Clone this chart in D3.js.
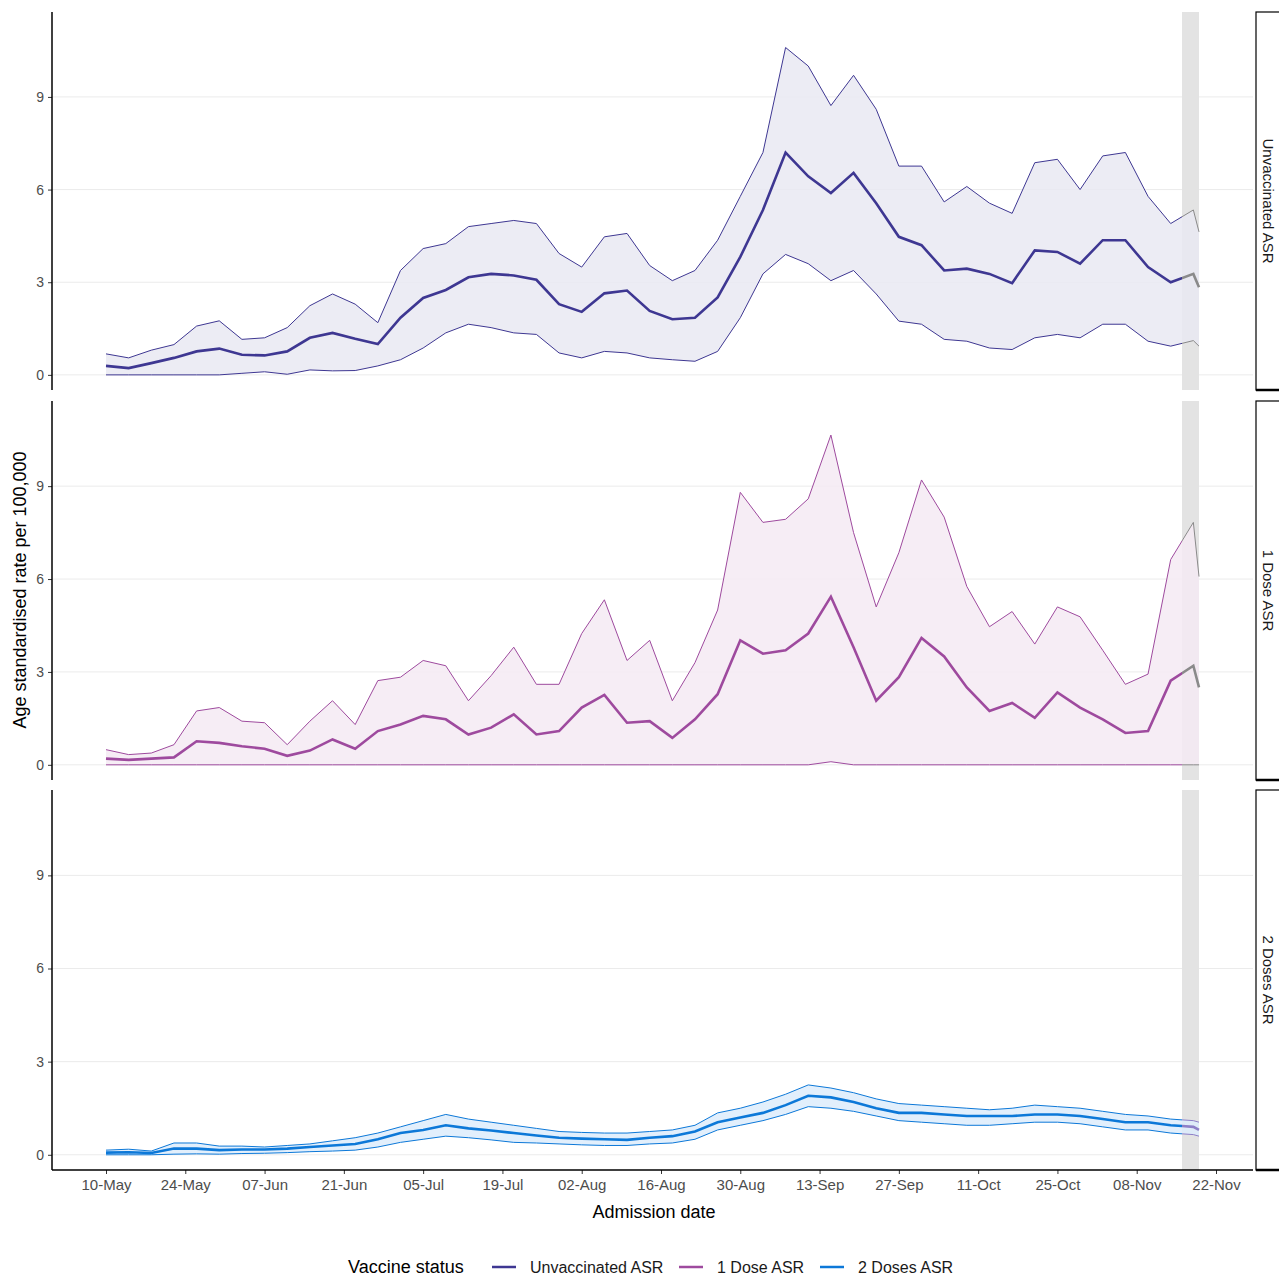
<!DOCTYPE html>
<html><head><meta charset="utf-8">
<script src="https://cdn.jsdelivr.net/npm/d3@7"></script>
<style>body{margin:0;background:#fff}svg{font-family:"Liberation Sans",Arial,sans-serif}</style>
</head><body><svg id="c" width="1279" height="1276"></svg>
<script>
// day offsets from 10-May, every 4 days, plus last day
const dayOffsets = [0,4,8,12,16,20,24,28,32,36,40,44,48,52,56,60,64,68,72,76,80,84,88,92,96,
  100,104,108,112,116,120,124,128,132,136,140,144,148,152,156,160,164,168,172,176,180,184,188,192,193];

const unvacHi = [0.68,0.55,0.8,0.98,1.58,1.75,1.15,1.2,1.53,2.24,2.62,2.29,1.69,3.38,4.09,4.25,4.8,4.9,5.0,4.9,3.93,3.49,4.47,4.58,3.54,
  3.05,3.38,4.36,5.78,7.2,10.6,10.0,8.72,9.7,8.6,6.76,6.76,5.6,6.1,5.56,5.23,6.87,6.98,6.0,7.09,7.2,5.78,4.9,5.34,4.63];
const unvacMid = [0.29,0.22,0.38,0.55,0.76,0.85,0.65,0.63,0.76,1.2,1.36,1.17,1.0,1.85,2.49,2.75,3.16,3.27,3.22,3.08,2.29,2.04,2.64,2.73,2.07,
  1.8,1.85,2.51,3.82,5.34,7.2,6.43,5.89,6.54,5.56,4.47,4.2,3.38,3.44,3.27,2.97,4.03,3.98,3.6,4.36,4.36,3.49,3.0,3.27,2.84];
const unvacLo = [0,0,0,0,0,0,0.05,0.1,0.02,0.16,0.13,0.14,0.29,0.49,0.87,1.36,1.64,1.53,1.36,1.31,0.71,0.55,0.76,0.71,0.55,
  0.49,0.44,0.76,1.85,3.27,3.9,3.6,3.05,3.38,2.62,1.74,1.64,1.15,1.09,0.87,0.82,1.2,1.31,1.2,1.64,1.64,1.09,0.93,1.11,0.93];

const dose1Hi = [0.49,0.33,0.38,0.65,1.74,1.85,1.41,1.36,0.65,1.41,2.07,1.3,2.72,2.83,3.37,3.2,2.07,2.88,3.8,2.6,2.6,4.24,5.33,3.37,4.02,
  2.07,3.3,5.0,8.8,7.83,7.93,8.59,10.65,7.5,5.1,6.85,9.2,8.0,5.76,4.46,4.95,3.9,5.1,4.78,3.7,2.6,2.93,6.63,7.83,6.08];
const dose1Mid = [0.2,0.16,0.2,0.24,0.76,0.71,0.6,0.52,0.29,0.46,0.82,0.52,1.09,1.3,1.58,1.47,0.98,1.2,1.63,0.98,1.09,1.85,2.26,1.36,1.41,
  0.87,1.47,2.28,4.02,3.59,3.7,4.24,5.43,3.8,2.07,2.83,4.1,3.5,2.5,1.74,2.0,1.52,2.34,1.85,1.47,1.03,1.09,2.72,3.2,2.5];
const dose1Lo = [0,0,0,0,0,0,0,0,0,0,0,0,0,0,0,0,0,0,0,0,0,0,0,0,0,
  0,0,0,0,0,0,0,0.1,0,0,0,0,0,0,0,0,0,0,0,0,0,0,0,0,0];

const dose2Hi = [0.15,0.18,0.12,0.38,0.38,0.28,0.28,0.25,0.3,0.35,0.45,0.55,0.7,0.9,1.1,1.3,1.15,1.05,0.95,0.85,0.75,0.72,0.7,0.7,0.75,
  0.8,0.95,1.35,1.5,1.7,1.95,2.25,2.15,2.0,1.8,1.65,1.6,1.55,1.5,1.45,1.5,1.6,1.55,1.5,1.4,1.3,1.25,1.15,1.1,1.05];
const dose2Mid = [0.07,0.08,0.06,0.2,0.2,0.15,0.17,0.17,0.2,0.25,0.3,0.35,0.5,0.7,0.8,0.95,0.85,0.78,0.7,0.62,0.55,0.52,0.5,0.48,0.55,
  0.6,0.75,1.05,1.2,1.35,1.6,1.9,1.85,1.7,1.5,1.35,1.35,1.3,1.25,1.25,1.25,1.3,1.3,1.25,1.15,1.05,1.05,0.95,0.9,0.8];
const dose2Lo = [0,0,0,0.02,0.03,0.02,0.04,0.05,0.07,0.1,0.12,0.15,0.25,0.4,0.5,0.6,0.55,0.48,0.4,0.38,0.35,0.32,0.3,0.3,0.35,
  0.38,0.5,0.8,0.95,1.1,1.3,1.55,1.5,1.4,1.25,1.1,1.05,1.0,0.95,0.95,1.0,1.05,1.05,1.0,0.9,0.8,0.8,0.7,0.65,0.6];

const xTickLabels = ['10-May','24-May','07-Jun','21-Jun','05-Jul','19-Jul','02-Aug','16-Aug','30-Aug','13-Sep','27-Sep','11-Oct','25-Oct','08-Nov','22-Nov'];
const yTicks = [0,3,6,9];
const panelNames = ['Unvaccinated ASR','1 Dose ASR','2 Doses ASR'];
const lineColors = ['#3e3792','#9e4a9e','#0c78d8'];
const fillColors = ['#e9e9f2','#f5eaf3','#ddecfb'];

const start = new Date(2021, 4, 10);
const day = (d) => d3.timeDay.offset(start, d);
const dates = dayOffsets.map(day);

const svg = d3.select('#c');
const x = d3.scaleTime().domain([day(0), day(196)]).range([106, 1216]);
const L = 52, R = 1253;

const panels = [
  {top: 12, bottom: 390, hi: unvacHi, mid: unvacMid, lo: unvacLo},
  {top: 401, bottom: 780, hi: dose1Hi, mid: dose1Mid, lo: dose1Lo},
  {top: 790, bottom: 1170, hi: dose2Hi, mid: dose2Mid, lo: dose2Lo}
];

const greyStart = x(day(190)), greyEnd = x(day(193.2));

panels.forEach((p, k) => {
  const y = d3.scaleLinear().domain([-0.49, 11.75]).range([p.bottom, p.top]);
  const g = svg.append('g');

  g.selectAll('.grid').data(yTicks).enter().append('line')
      .attr('x1', L).attr('x2', R).attr('y1', y).attr('y2', y)
      .attr('stroke', '#ebebeb').attr('stroke-width', 1);

  g.append('rect').attr('x', greyStart).attr('width', greyEnd - greyStart)
      .attr('y', p.top).attr('height', p.bottom - p.top).attr('fill', '#e3e3e3');

  const pts = dates.map((d, i) => ({d, hi: p.hi[i], mid: p.mid[i], lo: p.lo[i]}));
  const area = d3.area().x(d => x(d.d)).y0(d => y(d.lo)).y1(d => y(d.hi));
  g.append('path').datum(pts).attr('d', area).attr('fill', fillColors[k]).attr('opacity', 0.85);

  // clip colored part and grey tail
  const cid = 'clipA' + k, gid = 'clipB' + k;
  svg.append('clipPath').attr('id', cid).append('rect')
      .attr('x', 0).attr('y', 0).attr('width', greyStart).attr('height', 1276);
  svg.append('clipPath').attr('id', gid).append('rect')
      .attr('x', greyStart).attr('y', 0).attr('width', 200).attr('height', 1276);

  [['hi', 1], ['lo', 1], ['mid', 2.6]].forEach(([key, w]) => {
    const line = d3.line().x(d => x(d.d)).y(d => y(d[key]));
    g.append('path').datum(pts).attr('d', line).attr('fill', 'none')
        .attr('stroke', lineColors[k]).attr('stroke-width', w).attr('clip-path', `url(#${cid})`);
    g.append('path').datum(pts).attr('d', line).attr('fill', 'none')
        .attr('stroke', k === 2 ? '#8d7fc8' : '#8a8a8a').attr('stroke-width', w).attr('clip-path', `url(#${gid})`);
  });

  const yAxis = d3.axisLeft(y).tickValues(yTicks).tickSize(4).tickPadding(4);
  const ya = g.append('g').attr('transform', `translate(${L},0)`).call(yAxis);
  ya.select('.domain').remove();
  ya.selectAll('line').attr('stroke', '#333');
  ya.selectAll('text').attr('fill', '#4d4d4d').style('font-size', '14px');
  g.append('line').attr('x1', L).attr('x2', L).attr('y1', p.top).attr('y2', p.bottom)
      .attr('stroke', '#000').attr('stroke-width', 1.5);

  // strip
  g.append('rect').attr('x', 1256).attr('y', p.top).attr('width', 30).attr('height', p.bottom - p.top)
      .attr('fill', '#fff').attr('stroke', '#000').attr('stroke-width', 1.2);
  g.append('line').attr('x1', 1256).attr('x2', 1279).attr('y1', p.bottom).attr('y2', p.bottom)
      .attr('stroke', '#000').attr('stroke-width', 2.5);
  g.append('text').attr('transform', `translate(1263,${(p.top + p.bottom) / 2}) rotate(90)`)
      .attr('text-anchor', 'middle').attr('fill', '#1a1a1a').style('font-size', '15px').text(panelNames[k]);

  if (k === 2) {
    const xAxis = d3.axisBottom(x)
        .tickValues(xTickLabels.map((_, i) => day(i * 14)))
        .tickFormat((d, i) => xTickLabels[i]).tickSize(4).tickPadding(5);
    const xa = g.append('g').attr('transform', `translate(0,${p.bottom})`).call(xAxis);
    xa.select('.domain').remove();
    xa.selectAll('line').attr('stroke', '#333');
    xa.selectAll('text').attr('fill', '#4d4d4d').style('font-size', '15px');
    g.append('line').attr('x1', L).attr('x2', R).attr('y1', p.bottom).attr('y2', p.bottom)
        .attr('stroke', '#000').attr('stroke-width', 1.5);
  }
});

svg.append('text').attr('transform', 'translate(26,590) rotate(-90)').attr('text-anchor', 'middle')
    .style('font-size', '18px').attr('fill', '#000').text('Age standardised rate per 100,000');
svg.append('text').attr('x', 654).attr('y', 1218).attr('text-anchor', 'middle')
    .style('font-size', '18px').attr('fill', '#000').text('Admission date');

const leg = svg.append('g');
leg.append('text').attr('x', 348).attr('y', 1273).style('font-size', '18px').text('Vaccine status');
const legX = [492, 679, 820];
panelNames.forEach((n, i) => {
  leg.append('line').attr('x1', legX[i]).attr('x2', legX[i] + 24).attr('y1', 1267).attr('y2', 1267)
      .attr('stroke', lineColors[i]).attr('stroke-width', 2.5);
  leg.append('text').attr('x', legX[i] + 38).attr('y', 1273).style('font-size', '16px').attr('fill', '#1a1a1a').text(n);
});
</script></body></html>
